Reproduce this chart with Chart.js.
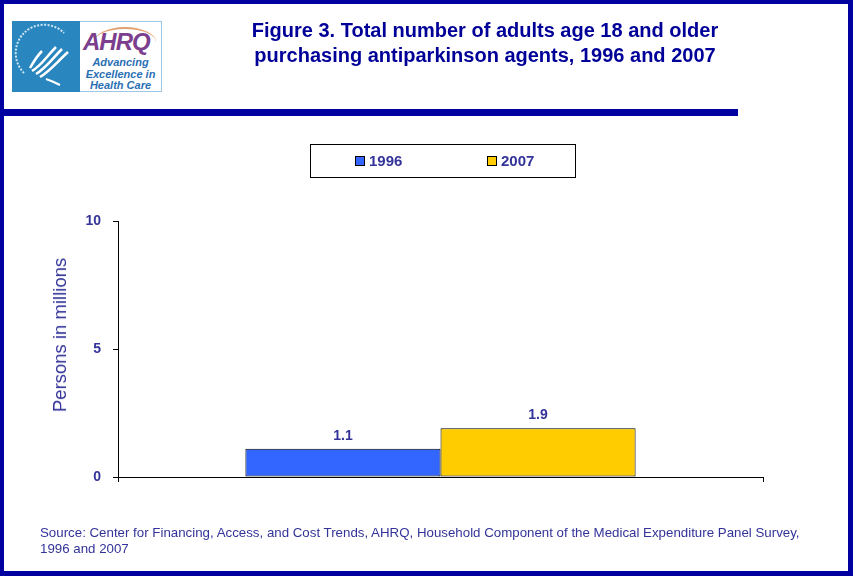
<!DOCTYPE html>
<html>
<head>
<meta charset="utf-8">
<script src="https://cdn.jsdelivr.net/npm/chart.js@4.4.1/dist/chart.umd.min.js"></script>
<style>
  html, body { margin: 0; padding: 0; background: #fff; }
  #page { position: relative; width: 853px; height: 576px; overflow: hidden; background: #fff;
          font-family: 'Liberation Sans', Arial, sans-serif; }
  #frame { position: absolute; left: 0; top: 0; width: 853px; height: 576px; box-sizing: border-box;
           border-style: solid; border-color: #0000a0; border-width: 4px 5px 5px 4px; pointer-events: none; }
  #rule { position: absolute; left: 0; top: 109px; width: 738px; height: 7px; background: #0000a0; }
  #logo { position: absolute; left: 12px; top: 21px; width: 150px; height: 71px; }
  #logo .seal { position: absolute; left: 0; top: 0; width: 68px; height: 71px; background: #2a86be; }
  #logo .txt { position: absolute; left: 68px; top: 0; width: 81px; height: 69px; border: 1px solid #9cc8e6; border-left: none; background: #fff; overflow: hidden; }
  #logo .arc { position: absolute; left: 14px; top: 5px; width: 62px; height: 30px; border-radius: 50%;
               border-top: 2px solid #e0a070; box-sizing: border-box; }
  #logo .ahrq { position: absolute; left: 3px; top: 6px; font: italic bold 24px 'Liberation Sans', Arial, sans-serif; color: #7b3f8e; letter-spacing: -1px; }
  #logo .tag { position: absolute; left: 0; top: 35px; width: 81px; text-align: center; font: italic bold 11px 'Liberation Sans', Arial, sans-serif; color: #2a6fb4; line-height: 11.5px; }
  #title { position: absolute; left: 185px; top: 18px; width: 600px; text-align: center; color: #000099;
           font: bold 20px 'Liberation Sans', Arial, sans-serif; line-height: 25px; }
  #legend { position: absolute; left: 310px; top: 144px; width: 264px; height: 32px; border: 1px solid #000; }
  .lg-item { position: absolute; top: 8px; font: bold 15px 'Liberation Sans', Arial, sans-serif; color: #333399; line-height: 16px; }
  .lg-box { display: inline-block; width: 8px; height: 8px; border: 1px solid #000; margin-right: 4px; vertical-align: 0px; }
  #ytitle { position: absolute; left: 60px; top: 335px; transform: translate(-50%, -50%) rotate(-90deg);
            white-space: nowrap; font: 18.5px 'Liberation Sans', Arial, sans-serif; color: #333399; }
  #source { position: absolute; left: 40px; top: 525px; font: 13.3px 'Liberation Sans', Arial, sans-serif; color: #333399; line-height: 16px; }
  #chart { position: absolute; left: 0; top: 0; }
</style>
</head>
<body>
<div id="page">
  <canvas id="chart" width="853" height="576"></canvas>
  <div id="logo">
    <div class="seal">
      <svg width="68" height="71" viewBox="0 0 68 71">
        <path d="M12 52 A27 27 0 0 1 52 12" fill="none" stroke="#cfe6f4" stroke-width="2" stroke-dasharray="2 1.5"/>
        <path d="M20 50 C30 44 34 36 44 26" fill="none" stroke="#fff" stroke-width="2.5"/>
        <path d="M24 53 C34 47 40 38 50 28" fill="none" stroke="#fff" stroke-width="2.5"/>
        <path d="M28 56 C38 50 44 42 56 31" fill="none" stroke="#fff" stroke-width="2.5"/>
        <path d="M18 47 C22 40 26 34 30 30" fill="none" stroke="#fff" stroke-width="2.5"/>
        <path d="M34 58 C40 60 44 62 48 64" fill="none" stroke="#fff" stroke-width="2"/>
      </svg>
    </div>
    <div class="txt">
      <div class="arc"></div>
      <div class="ahrq">AHRQ</div>
      <div class="tag">Advancing<br>Excellence in<br>Health Care</div>
    </div>
  </div>
  <div id="title">Figure 3. Total number of adults age 18 and older<br>purchasing antiparkinson agents, 1996 and 2007</div>
  <div id="rule"></div>
  <div id="legend"></div>
  <div id="ytitle">Persons in millions</div>
  <div id="source">Source: Center for Financing, Access, and Cost Trends, AHRQ, Household Component of the Medical Expenditure Panel Survey,<br>1996 and 2007</div>
  <div id="frame"></div>
</div>
<script>
const categories = [''];
const seriesNames = ['1996', '2007'];
const seriesValues = [[1.1], [1.9]];
const seriesColors = ['#3366ff', '#ffcc00'];
const yTicks = [0, 5, 10];

const labelColor = '#333399';

// legend built from the series
const legend = document.getElementById('legend');
const legendX = [44, 176];
seriesNames.forEach((name, i) => {
    const item = document.createElement('div');
    item.className = 'lg-item';
    item.style.left = legendX[i] + 'px';
    item.innerHTML = '<span class="lg-box" style="background:' + seriesColors[i] + '"></span>' + name;
    legend.appendChild(item);
});

// value labels above bars
const barLabels = {
    id: 'barLabels',
    afterDatasetsDraw(chart) {
        const ctx = chart.ctx;
        ctx.save();
        ctx.font = "bold 14px 'Liberation Sans', Arial, sans-serif";
        ctx.fillStyle = labelColor;
        ctx.textAlign = 'center';
        ctx.textBaseline = 'bottom';
        chart.data.datasets.forEach((ds, i) => {
            chart.getDatasetMeta(i).data.forEach((bar, j) => {
                ctx.fillText(ds.data[j].toFixed(1), bar.x, bar.y - 6);
            });
        });
        ctx.restore();
    }
};

new Chart(document.getElementById('chart'), {
    type: 'bar',
    data: {
        labels: categories,
        datasets: seriesNames.map((name, i) => ({
            label: name,
            data: seriesValues[i],
            backgroundColor: seriesColors[i],
            borderColor: '#000',
            borderWidth: 1,
            borderSkipped: false,
            categoryPercentage: 0.605,
            barPercentage: 1
        }))
    },
    options: {
        responsive: false,
        animation: false,
        events: [],
        layout: { padding: { left: 30, right: 90, top: 221, bottom: 89 } },
        plugins: { legend: { display: false }, tooltip: { enabled: false } },
        scales: {
            x: {
                grid: { drawOnChartArea: false, drawTicks: true, tickLength: 5, color: '#000', offset: true },
                border: { display: true, color: '#000', width: 1 },
                ticks: { display: false },
                afterFit: (axis) => { axis.height = 10; }
            },
            y: {
                min: 0,
                max: 10,
                afterBuildTicks: (axis) => { axis.ticks = yTicks.map(v => ({ value: v })); },
                grid: { drawOnChartArea: false, drawTicks: true, tickLength: 5, color: '#000' },
                border: { display: true, color: '#000', width: 1 },
                ticks: {
                    padding: 12,
                    color: labelColor,
                    font: { family: "'Liberation Sans', Arial, sans-serif", size: 14, weight: 'bold' }
                },
                afterFit: (axis) => { axis.width = 88; }
            }
        }
    },
    plugins: [barLabels]
});
</script>
</body>
</html>
